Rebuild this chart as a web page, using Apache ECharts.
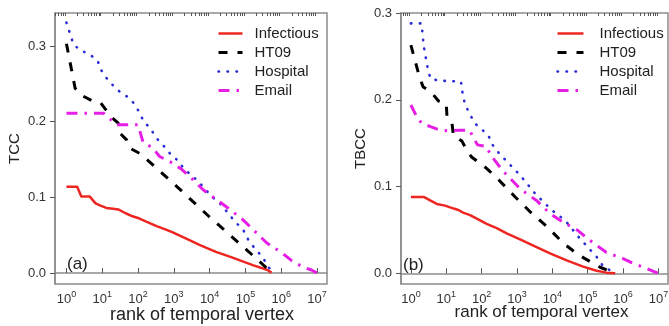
<!DOCTYPE html>
<html lang="en">
<head>
<meta charset="UTF-8">
<title>TCC / TBCC vs rank</title>
<style>html,body{margin:0;padding:0;background:#fff}</style>
</head>
<body>
<div id="chart" style="width:669px;height:326px"></div>
<script src="https://cdn.jsdelivr.net/npm/echarts@6/dist/echarts.min.js"></script>
<script>
const names = ['Infectious', 'HT09', 'Hospital', 'Email']
const decadeTicks = [1, 10, 100, 1e3, 1e4, 1e5, 1e6, 1e7]
const yTicks = [0, 0.1, 0.2, 0.3]

// (a) TCC, [rank, value]
const tccInfectious = [[1, 0.114], [2, 0.114], [2.6, 0.101], [4.5, 0.101], [6.5, 0.092], [9, 0.089], [13, 0.086], [20, 0.085], [28, 0.084], [45, 0.079], [70, 0.075], [110, 0.072], [170, 0.068], [330, 0.062], [630, 0.057], [1000, 0.053], [2300, 0.045], [5400, 0.037], [15000, 0.028], [46000, 0.020], [160000, 0.0105], [400000, 0.0044], [540000, 0.0005]]
const tccHT09 = [[1, 0.303], [1.75, 0.244], [2.6, 0.235], [5, 0.228], [9, 0.225], [13, 0.215], [18, 0.206], [28, 0.198], [31, 0.185], [48, 0.176], [59, 0.165], [112, 0.158], [175, 0.150], [1000, 0.118], [10000, 0.074], [100000, 0.032], [250000, 0.015], [530000, 0.001]]
const tccHospital = [[1, 0.331], [1.55, 0.303], [2.3, 0.295], [4.4, 0.289], [7.4, 0.281], [9.1, 0.269], [13, 0.258], [20, 0.248], [31, 0.2395], [50, 0.233], [78, 0.224], [107, 0.213], [145, 0.200], [224, 0.191], [316, 0.179], [500, 0.169], [780, 0.158], [1200, 0.150], [2000, 0.137], [3900, 0.125], [6600, 0.114], [11500, 0.101], [19500, 0.092], [33000, 0.079], [51000, 0.068], [87000, 0.057], [120000, 0.044], [180000, 0.033], [316000, 0.020], [390000, 0.011], [600000, 0]]
const tccEmail = [[1, 0.211], [11, 0.211], [25, 0.196], [100, 0.196], [140, 0.172], [250, 0.166], [400, 0.154], [950, 0.145], [1660, 0.137], [3500, 0.123], [6600, 0.110], [15500, 0.097], [37000, 0.084], [87000, 0.070], [204000, 0.053], [390000, 0.040], [1100000, 0.026], [2000000, 0.016], [4000000, 0.008], [7000000, 0.004], [10000000, 0]]

// (b) TBCC, [rank, value]
const tbccInfectious = [[1, 0.088], [2.3, 0.088], [3.5, 0.084], [5.4, 0.080], [9.3, 0.078], [12.8, 0.076], [22, 0.073], [30, 0.070], [47, 0.067], [73, 0.063], [139, 0.057], [267, 0.052], [510, 0.046], [1220, 0.039], [2900, 0.032], [8600, 0.023], [25400, 0.015], [74000, 0.0077], [178000, 0.003], [340000, 0.0008], [600000, 0]]
const tbccHT09 = [[1, 0.263], [1.7, 0.228], [2.2, 0.215], [3.9, 0.208], [6, 0.1986], [10, 0.1956], [10.5, 0.180], [14.5, 0.173], [16, 0.158], [27.5, 0.1526], [38, 0.142], [52, 0.134], [138, 0.121], [316, 0.107], [890, 0.088], [2340, 0.071], [7000, 0.054], [20000, 0.035], [56000, 0.021], [224000, 0.007], [600000, 0]]
const tbccHospital = [[1, 0.288], [2, 0.288], [2.3, 0.262], [3, 0.236], [3.6, 0.224], [6.6, 0.222], [26, 0.221], [29, 0.207], [34, 0.1945], [47, 0.183], [65, 0.1726], [100, 0.166], [155, 0.159], [204, 0.148], [316, 0.138], [1230, 0.113], [3240, 0.092], [9500, 0.073], [23000, 0.061], [55000, 0.042], [178000, 0.019], [275000, 0.008], [600000, 0]]
const tbccEmail = [[1, 0.194], [1.4, 0.182], [2, 0.173], [3.6, 0.169], [6, 0.1657], [11.5, 0.164], [23, 0.165], [45, 0.165], [62, 0.155], [76, 0.148], [138, 0.146], [182, 0.136], [400, 0.118], [1260, 0.097], [3550, 0.084], [8500, 0.069], [20000, 0.059], [50000, 0.050], [115000, 0.038], [340000, 0.024], [1000000, 0.017], [1800000, 0.012], [3500000, 0.0075], [10000000, 0]]

const font = 'Liberation Sans, Arial, Helvetica, sans-serif'
const frame = '#8c8c8c'

// log minor ticks 2..9 per decade
const xMin = [Math.pow(10, -0.32), Math.pow(10, -0.28)]
const xMax = [Math.pow(10, 7.28), Math.pow(10, 7.27)]
const minorTicks = []
for (let k = -1; k <= 7; k++) {
    for (let m = 2; m <= 9; m++) minorTicks.push(m * Math.pow(10, k))
}

const styles = {
    Infectious: { color: '#ee2622', width: 2.5, type: 'solid' },
    HT09: { color: '#000000', width: 3, type: [9, 10] },
    Hospital: { color: '#2b2bd6', width: 2.6, type: [0.5, 8.5], cap: 'round' },
    Email: { color: '#e61ee6', width: 3, type: [11, 7, 2.5, 7] }
}

function mainX(g) {
    return {
        type: 'log', gridIndex: g, min: xMin[g], max: xMax[g],
        name: 'rank of temporal vertex', nameLocation: 'middle', nameGap: g ? 20 : 22,
        nameMoveOverlap: false,
        nameTextStyle: { fontSize: g ? 17 : 18, color: '#222', fontFamily: font, padding: [0, 0, 0, g ? 14 : 22] },
        axisLine: { show: true, lineStyle: { color: frame, width: 1.5 } },
        axisTick: { show: true, inside: true, length: 5, customValues: decadeTicks, lineStyle: { color: '#555' } },
        axisLabel: {
            customValues: decadeTicks, margin: 6,
            formatter: v => '{b|10}{s|' + Math.round(Math.log10(v)) + '}',
            rich: {
                b: { fontSize: 13, color: '#333', fontFamily: font, lineHeight: 16, verticalAlign: 'bottom' },
                s: { fontSize: 9, color: '#333', fontFamily: font, lineHeight: 16, verticalAlign: 'top' }
            }
        },
        splitLine: { show: false }
    }
}
function minorX(g) {
    return {
        type: 'log', gridIndex: g, min: xMin[g], max: xMax[g],
        axisLine: { show: false },
        axisTick: { show: true, inside: true, length: 3, customValues: minorTicks.filter(v => v > xMin[g] && v < xMax[g]), lineStyle: { color: '#555' } },
        axisLabel: { show: false },
        splitLine: { show: false }
    }
}
function mainY(g, min, max, title) {
    return {
        type: 'value', gridIndex: g, min: min, max: max,
        name: title, nameLocation: 'middle', nameGap: 33, nameRotate: 90,
        nameTextStyle: { fontSize: 15, color: '#222', fontFamily: font },
        axisLine: { show: true, lineStyle: { color: frame, width: 1.5 } },
        axisTick: { show: true, length: 5, customValues: yTicks, lineStyle: { color: '#555' } },
        axisLabel: { customValues: yTicks, margin: 9, fontSize: 13, color: '#333', fontFamily: font, formatter: v => v.toFixed(1) },
        splitLine: { show: false }
    }
}
function series(name, data, g) {
    const s = styles[name]
    return {
        name: name, type: 'line', data: data, xAxisIndex: g * 2, yAxisIndex: g,
        symbol: 'none', silent: true, animation: false,
        lineStyle: { color: s.color, width: s.width, type: s.type, cap: s.cap || 'butt' },
        itemStyle: { color: s.color }
    }
}
function legend(left, w, pad) {
    return {
        data: names, orient: 'vertical', left: left, top: 26, padding: 0,
        itemWidth: w, itemHeight: 14, itemGap: 4,
        lineStyle: { width: 'inherit' },
        itemStyle: { opacity: 0 },
        textStyle: { fontSize: 15, color: '#222', fontFamily: font, lineHeight: 14, padding: [0, 0, 0, pad] }
    }
}

const chart = echarts.init(document.getElementById('chart'))
chart.setOption({
    backgroundColor: '#fff',
    animation: false,
    title: [
        { text: '(a)', left: 67, top: 256, padding: 0, textStyle: { fontSize: 17, fontWeight: 'normal', color: '#222', fontFamily: font } },
        { text: '(b)', left: 403, top: 257, padding: 0, textStyle: { fontSize: 17, fontWeight: 'normal', color: '#222', fontFamily: font } }
    ],
    legend: [legend(217, 24, 7), legend(556, 26, 11)],
    grid: [
        { left: 55, right: 342, top: 13, bottom: 42, show: true, borderColor: frame, borderWidth: 1.5, outerBoundsMode: 'none' },
        { left: 401, right: 1, top: 13, bottom: 42, show: true, borderColor: frame, borderWidth: 1.5, outerBoundsMode: 'none' }
    ],
    xAxis: [mainX(0), minorX(0), mainX(1), minorX(1)],
    yAxis: [mainY(0, -0.0145, 0.3436, 'TCC'), mainY(1, -0.0123, 0.3, 'TBCC')],
    series: [
        series('Infectious', tccInfectious, 0),
        series('HT09', tccHT09, 0),
        series('Hospital', tccHospital, 0),
        series('Email', tccEmail, 0),
        series('Infectious', tbccInfectious, 1),
        series('HT09', tbccHT09, 1),
        series('Hospital', tbccHospital, 1),
        series('Email', tbccEmail, 1)
    ]
})
</script>
</body>
</html>
